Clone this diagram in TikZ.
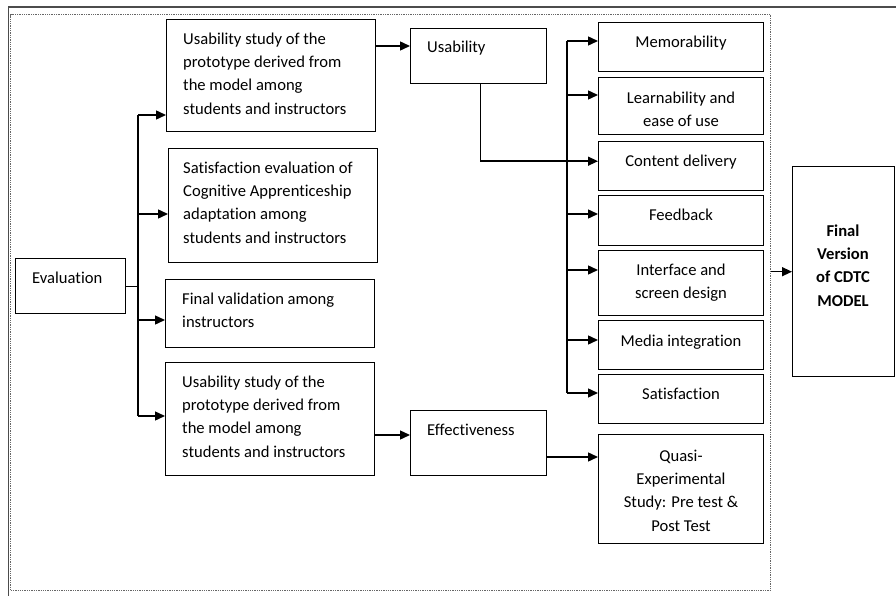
\documentclass[tikz,border=0pt]{standalone}
\usepackage{fontspec}
\setmainfont[Ligatures=NoCommon]{Carlito}
\usetikzlibrary{arrows.meta}

\begin{document}
\begin{tikzpicture}[x=1pt,y=-1pt,
	box/.style={draw, line width=1.4pt, inner sep=0pt, anchor=north west},
	txt/.style={inner sep=0pt, font=\fontsize{16.6}{23.3}\selectfont},
	line/.style={line width=1.4pt},
	arr/.style={line width=1.4pt, -{Triangle[length=10pt,width=9pt]}}]

	\useasboundingbox (0,0) rectangle (896,596);

	% outer frame
	\draw[line width=1.5pt, black!70] (896,7) -- (8.5,7) -- (8.5,596);
	\node[box, draw=black!60, line width=1.3pt, dash pattern=on 1.3pt off 1pt, minimum width=760pt, minimum height=576pt] (frame) at (10,14) {};

	% boxes
	\node[box, minimum width=110pt, minimum height=55pt] (ev) at (15,258) {};
	\node[box, minimum width=209pt, minimum height=112pt] (useA) at (166,19) {};
	\node[box, minimum width=209pt, minimum height=114pt] (sat) at (168,148) {};
	\node[box, minimum width=209pt, minimum height=68pt] (valid) at (165,279) {};
	\node[box, minimum width=209pt, minimum height=113pt] (useB) at (165,362) {};
	\node[box, minimum width=136pt, minimum height=55pt] (usab) at (410,28) {};
	\node[box, minimum width=136pt, minimum height=65pt] (eff) at (410,410) {};
	\node[box, minimum width=165pt, minimum height=49pt] (mem) at (598,22) {};
	\node[box, minimum width=165pt, minimum height=57pt] (learn) at (598,77) {};
	\node[box, minimum width=165pt, minimum height=49pt] (cont) at (598,141) {};
	\node[box, minimum width=165pt, minimum height=50pt] (feed) at (598,195) {};
	\node[box, minimum width=165pt, minimum height=65pt] (iface) at (598,250) {};
	\node[box, minimum width=165pt, minimum height=49pt] (media) at (598,320) {};
	\node[box, minimum width=165pt, minimum height=49pt] (satis) at (598,374) {};
	\node[box, minimum width=165pt, minimum height=109pt] (quasi) at (598,434) {};
	\node[box, minimum width=102pt, minimum height=210pt] (final) at (792,166) {};

	% texts
	\node[txt, anchor=north west] (ev-t) at (32,271.5) {Evaluation};
	\node[txt, anchor=north west, align=left] (useA-t) at (183,32.5) {Usability study of the\\prototype derived from\\the model among\\students and instructors};
	\node[txt, anchor=north west, align=left] (sat-t) at (183,161.5) {Satisfaction evaluation of\\Cognitive Apprenticeship\\adaptation among\\students and instructors};
	\node[txt, anchor=north west, align=left] (valid-t) at (182,292.5) {Final validation among\\instructors};
	\node[txt, anchor=north west, align=left] (useB-t) at (182,375.5) {Usability study of the\\prototype derived from\\the model among\\students and instructors};
	\node[txt, anchor=north west] (usab-t) at (427,40.5) {Usability};
	\node[txt, anchor=north west] (eff-t) at (427,423.5) {Effectiveness};
	\node[txt, anchor=north] (mem-t) at (681,35.5) {Memorability};
	\node[txt, anchor=north, align=center] (learn-t) at (681,91.5) {Learnability and\\ease of use};
	\node[txt, anchor=north] (cont-t) at (681,154.5) {Content delivery};
	\node[txt, anchor=north] (feed-t) at (681,208.5) {Feedback};
	\node[txt, anchor=north, align=center] (iface-t) at (681,263.5) {Interface and\\screen design};
	\node[txt, anchor=north] (media-t) at (681,334.5) {Media integration};
	\node[txt, anchor=north] (satis-t) at (681,387.5) {Satisfaction};
	\node[txt, anchor=north, align=center] (quasi-t) at (681,449.5) {Quasi-\\Experimental\\Study: Pre test \&\\Post Test};
	\node[txt, anchor=north, align=center, font=\fontsize{16.6}{23.3}\selectfont\bfseries] (final-t) at (843,224.5) {Final\\Version\\of CDTC\\MODEL};

	% left trunk
	\coordinate (tA) at (138,115);
	\coordinate (tB) at (138,214);
	\coordinate (tC) at (138,320);
	\coordinate (tD) at (138,416);
	\draw[line] (ev.east) -- (ev.east -| tA);
	\draw[line] (tA) -- (tD);
	\draw[arr] (tA) -- (tA -| useA.west);
	\draw[arr] (tB) -- (tB -| sat.west);
	\draw[arr] (tC) -- (tC -| valid.west);
	\draw[arr] (tD) -- (tD -| useB.west);

	% middle
	\coordinate (aU) at (375,46);
	\coordinate (aE) at (375,435);
	\coordinate (eQ) at (547,457);
	\draw[arr] (aU) -- (aU -| usab.west);
	\draw[arr] (aE) -- (aE -| eff.west);
	\draw[arr] (eQ) -- (eQ -| quasi.west);
	\draw[arr] ([xshift=2pt]usab.south) |- ([yshift=5pt]cont.west);

	% right trunk
	\coordinate (r1) at (567,41);
	\coordinate (r2) at (567,95);
	\coordinate (r3) at (567,214);
	\coordinate (r4) at (567,270);
	\coordinate (r5) at (567,340);
	\coordinate (r6) at (567,393);
	\draw[line] (r1) -- (r6);
	\draw[arr] (r1) -- (r1 -| mem.west);
	\draw[arr] (r2) -- (r2 -| learn.west);
	\draw[arr] (r3) -- (r3 -| feed.west);
	\draw[arr] (r4) -- (r4 -| iface.west);
	\draw[arr] (r5) -- (r5 -| media.west);
	\draw[arr] (r6) -- (r6 -| satis.west);

	\draw[arr] (final.west -| frame.east) -- (final.west);

\end{tikzpicture}
\end{document}
